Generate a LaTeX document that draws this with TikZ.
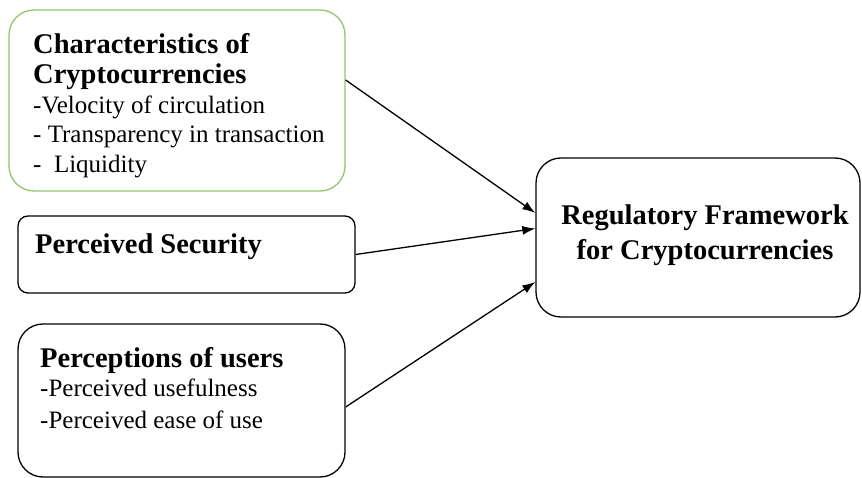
\documentclass[tikz,border=0pt]{standalone}
\usepackage{fontspec}
\setmainfont{Liberation Serif}
\usepackage{tikz}
\usetikzlibrary{arrows.meta}
\definecolor{myblack}{rgb}{0.000,0.000,0.000}
\definecolor{mywhite}{rgb}{1.000,1.000,1.000}
\definecolor{mygreen}{rgb}{0.553,0.780,0.420}
\tikzstyle{none}=[inner sep=0pt]
\tikzstyle{greenbox}=[rectangle,draw=mygreen,fill=mywhite,line width=1.3pt,rounded corners=25pt]
\tikzstyle{box}=[rectangle,draw=myblack,fill=mywhite,line width=1.3pt,rounded corners=25pt]
\tikzstyle{flatbox}=[rectangle,draw=myblack,fill=mywhite,line width=1.3pt,rounded corners=10pt]
\tikzstyle{label}=[inner sep=0pt,align=left,font=\fontsize{25}{29.5}\selectfont]
\tikzstyle{title}=[inner sep=0pt,align=center,font=\bfseries\fontsize{28.5}{35}\selectfont]
\newcommand{\head}[1]{\textbf{\fontsize{28.5}{32}\selectfont #1}}
\tikzstyle{link}=[line width=1.3pt,-{Latex[length=13pt,width=9pt]}]

\begin{document}
\begin{tikzpicture}[x=1pt,y=-1pt]
\useasboundingbox (0,0) rectangle (862,478);
	% boxes
		\node [style=greenbox,minimum width=336pt,minimum height=181pt] (0) at (177, 100.5) {};
		\node [style=flatbox,minimum width=337pt,minimum height=77pt] (1) at (186.5, 254.5) {};
		\node [style=box,minimum width=327pt,minimum height=153pt] (2) at (181.5, 400.5) {};
		\node [style=box,minimum width=324pt,minimum height=159pt] (3) at (698, 237.5) {};
	% texts
		\node [style=label,anchor=north west] (4) at (33, 33) {\head{Characteristics of}\\[1pt]\head{Cryptocurrencies}\\-Velocity of circulation\\- Transparency in transaction\\-\ \ Liquidity};
		\node [style=label,anchor=north west] (5) at (35, 234) {\head{Perceived Security}};
		\node [style=label,anchor=north west] (6) at (40, 347) {\head{Perceptions of users}\\-Perceived usefulness\\[2pt]-Perceived ease of use};
		\node [style=title] (7) at (705, 235) {Regulatory Framework\\for Cryptocurrencies};
	% arrows
		\draw [style=link] ([yshift=20.5pt]0.east) to ([yshift=24.5pt]3.west);
		\draw [style=link] (1.east) to ([yshift=9pt]3.west);
		\draw [style=link] ([yshift=-6.5pt]2.east) to ([yshift=-44.5pt]3.west);
\end{tikzpicture}
\end{document}
